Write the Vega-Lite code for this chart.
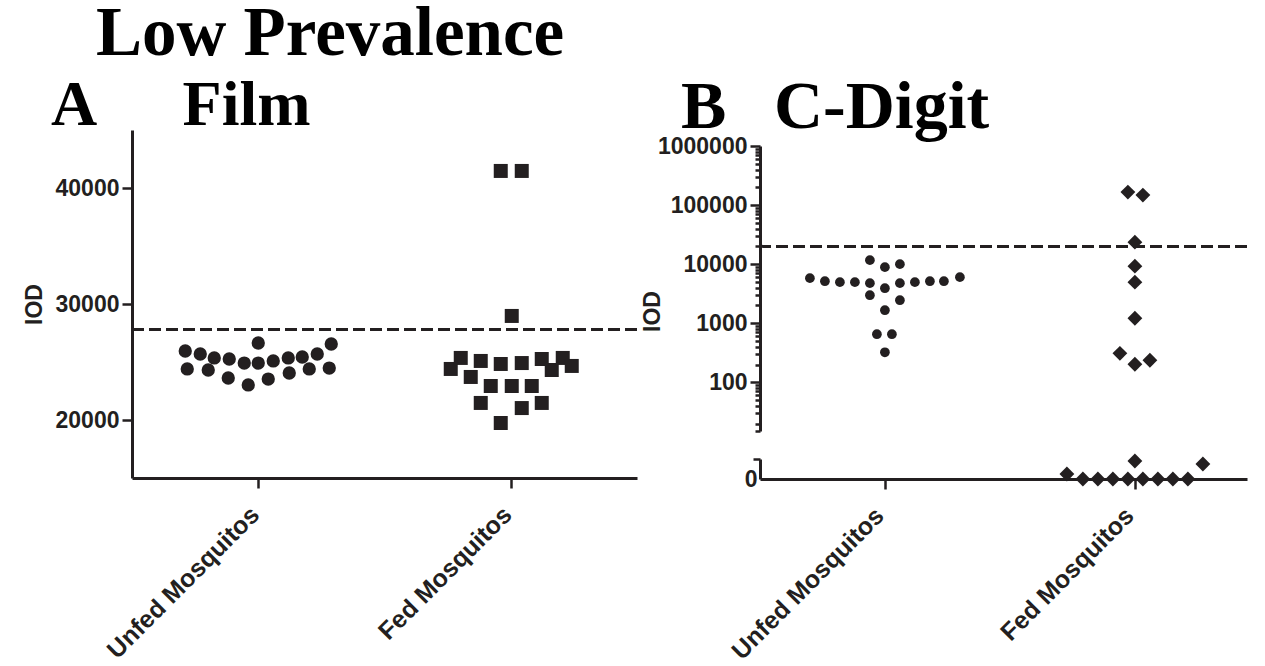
{
  "$schema": "https://vega.github.io/schema/vega-lite/v6.json",
  "background": "white",
  "padding": {"left": 23, "top": 0, "right": 0, "bottom": 0},
  "config": {
    "view": {"stroke": null},
    "font": "Liberation Sans",
    "axis": {
      "labelFont": "Liberation Sans", "labelFontWeight": "bold", "labelFontSize": 23, "labelColor": "#231f20",
      "titleFont": "Liberation Sans", "titleFontWeight": "bold", "titleFontSize": 23, "titleColor": "#231f20",
      "domainColor": "#231f20", "domainWidth": 3, "tickColor": "#231f20", "tickWidth": 2.5, "tickSize": 10,
      "grid": false, "labelPadding": 3, "labelLimit": 0
    },
    "title": {"font": "Liberation Serif", "fontWeight": "bold", "fontSize": 64, "color": "#000000"}
  },
  "resolve": {"scale": {"shape": "independent", "size": "independent"}},
  "title": {"text": "Low Prevalence", "fontSize": 69, "anchor": "start", "frame": "group", "dx": -36, "offset": 5},
  "spacing": 2,
  "datasets": {
    "film": [
      {"group": "Unfed Mosquitos", "iod": 25950, "jitter": -73},
      {"group": "Unfed Mosquitos", "iod": 25690, "jitter": -58},
      {"group": "Unfed Mosquitos", "iod": 25350, "jitter": -44},
      {"group": "Unfed Mosquitos", "iod": 25260, "jitter": -29},
      {"group": "Unfed Mosquitos", "iod": 24910, "jitter": -14},
      {"group": "Unfed Mosquitos", "iod": 26640, "jitter": 0},
      {"group": "Unfed Mosquitos", "iod": 24910, "jitter": 0},
      {"group": "Unfed Mosquitos", "iod": 25090, "jitter": 15},
      {"group": "Unfed Mosquitos", "iod": 25350, "jitter": 30},
      {"group": "Unfed Mosquitos", "iod": 25430, "jitter": 44},
      {"group": "Unfed Mosquitos", "iod": 25690, "jitter": 59},
      {"group": "Unfed Mosquitos", "iod": 26550, "jitter": 73},
      {"group": "Unfed Mosquitos", "iod": 24400, "jitter": -71},
      {"group": "Unfed Mosquitos", "iod": 24310, "jitter": -50},
      {"group": "Unfed Mosquitos", "iod": 23620, "jitter": -30},
      {"group": "Unfed Mosquitos", "iod": 23020, "jitter": -10},
      {"group": "Unfed Mosquitos", "iod": 23530, "jitter": 10},
      {"group": "Unfed Mosquitos", "iod": 24050, "jitter": 31},
      {"group": "Unfed Mosquitos", "iod": 24400, "jitter": 51},
      {"group": "Unfed Mosquitos", "iod": 24480, "jitter": 71},
      {"group": "Fed Mosquitos", "iod": 41470, "jitter": -10},
      {"group": "Fed Mosquitos", "iod": 41470, "jitter": 11},
      {"group": "Fed Mosquitos", "iod": 28970, "jitter": 1},
      {"group": "Fed Mosquitos", "iod": 24400, "jitter": -60},
      {"group": "Fed Mosquitos", "iod": 25350, "jitter": -50},
      {"group": "Fed Mosquitos", "iod": 25090, "jitter": -30},
      {"group": "Fed Mosquitos", "iod": 23710, "jitter": -40},
      {"group": "Fed Mosquitos", "iod": 24830, "jitter": -10},
      {"group": "Fed Mosquitos", "iod": 24910, "jitter": 11},
      {"group": "Fed Mosquitos", "iod": 25260, "jitter": 31},
      {"group": "Fed Mosquitos", "iod": 24310, "jitter": 41},
      {"group": "Fed Mosquitos", "iod": 25350, "jitter": 52},
      {"group": "Fed Mosquitos", "iod": 24660, "jitter": 61},
      {"group": "Fed Mosquitos", "iod": 22930, "jitter": -20},
      {"group": "Fed Mosquitos", "iod": 22930, "jitter": 1},
      {"group": "Fed Mosquitos", "iod": 22930, "jitter": 21},
      {"group": "Fed Mosquitos", "iod": 21470, "jitter": -30},
      {"group": "Fed Mosquitos", "iod": 21030, "jitter": 11},
      {"group": "Fed Mosquitos", "iod": 21470, "jitter": 31},
      {"group": "Fed Mosquitos", "iod": 19740, "jitter": -10}
    ],
    "cdigit": [
      {"group": "Unfed Mosquitos", "iod": 5794, "jitter": -75},
      {"group": "Unfed Mosquitos", "iod": 5150, "jitter": -60},
      {"group": "Unfed Mosquitos", "iod": 4955, "jitter": -45},
      {"group": "Unfed Mosquitos", "iod": 4955, "jitter": -30},
      {"group": "Unfed Mosquitos", "iod": 4767, "jitter": -15},
      {"group": "Unfed Mosquitos", "iod": 11690, "jitter": -15},
      {"group": "Unfed Mosquitos", "iod": 8892, "jitter": 0},
      {"group": "Unfed Mosquitos", "iod": 10000, "jitter": 15},
      {"group": "Unfed Mosquitos", "iod": 3917, "jitter": 0},
      {"group": "Unfed Mosquitos", "iod": 4767, "jitter": 15},
      {"group": "Unfed Mosquitos", "iod": 4955, "jitter": 30},
      {"group": "Unfed Mosquitos", "iod": 5150, "jitter": 45},
      {"group": "Unfed Mosquitos", "iod": 5150, "jitter": 59},
      {"group": "Unfed Mosquitos", "iod": 6026, "jitter": 75},
      {"group": "Unfed Mosquitos", "iod": 2985, "jitter": -15},
      {"group": "Unfed Mosquitos", "iod": 2455, "jitter": 15},
      {"group": "Unfed Mosquitos", "iod": 1660, "jitter": 0},
      {"group": "Unfed Mosquitos", "iod": 652, "jitter": -8},
      {"group": "Unfed Mosquitos", "iod": 652, "jitter": 7},
      {"group": "Unfed Mosquitos", "iod": 322, "jitter": 0},
      {"group": "Fed Mosquitos", "iod": 165900, "jitter": -7},
      {"group": "Fed Mosquitos", "iod": 147600, "jitter": 8},
      {"group": "Fed Mosquitos", "iod": 23600, "jitter": 0},
      {"group": "Fed Mosquitos", "iod": 9250, "jitter": 0},
      {"group": "Fed Mosquitos", "iod": 4955, "jitter": 0},
      {"group": "Fed Mosquitos", "iod": 1216, "jitter": 0},
      {"group": "Fed Mosquitos", "iod": 310, "jitter": -15},
      {"group": "Fed Mosquitos", "iod": 202, "jitter": 0},
      {"group": "Fed Mosquitos", "iod": 236, "jitter": 15},
      {"group": "Fed Mosquitos", "iod": 2.5, "jitter": -68},
      {"group": "Fed Mosquitos", "iod": 0, "jitter": -52},
      {"group": "Fed Mosquitos", "iod": 0, "jitter": -37},
      {"group": "Fed Mosquitos", "iod": 0, "jitter": -22},
      {"group": "Fed Mosquitos", "iod": 0, "jitter": -7},
      {"group": "Fed Mosquitos", "iod": 0, "jitter": 8},
      {"group": "Fed Mosquitos", "iod": 0, "jitter": 23},
      {"group": "Fed Mosquitos", "iod": 0, "jitter": 38},
      {"group": "Fed Mosquitos", "iod": 0, "jitter": 53},
      {"group": "Fed Mosquitos", "iod": 9, "jitter": 0},
      {"group": "Fed Mosquitos", "iod": 7.5, "jitter": 68}
    ]
  },
  "hconcat": [
    {
      "width": 505,
      "height": 348,
      "title": {"text": "A\u00a0\u00a0\u00a0\u00a0\u00a0\u200aFilm", "anchor": "start", "frame": "group", "dx": -81, "offset": -8},
      "layer": [
        {
          "data": {"values": [{"cutoff": 27800}]},
          "mark": {"type": "rule", "strokeDash": [12, 5], "strokeWidth": 3, "color": "#231f20"},
          "encoding": {
            "y": {"field": "cutoff", "type": "quantitative", "title": "IOD"}
          }
        },
        {
          "data": {"name": "film"},
          "mark": {"type": "point", "filled": true, "opacity": 1, "color": "#231f20"},
          "encoding": {
            "x": {
              "field": "group", "type": "nominal", "sort": ["Unfed Mosquitos", "Fed Mosquitos"],
              "scale": {"type": "point", "padding": 0.5},
              "axis": {"title": null, "labelAngle": -45, "labelAlign": "right", "labelBaseline": "alphabetic", "labelPadding": 28, "labelOffset": 2, "labelFontSize": 25}
            },
            "xOffset": {"field": "jitter", "type": "quantitative", "scale": {"domain": [-100, 100], "range": [-100, 100]}},
            "y": {
              "field": "iod", "type": "quantitative", "title": "IOD",
              "scale": {"domain": [15000, 45000], "nice": false, "zero": false},
              "axis": {"values": [20000, 30000, 40000], "format": "d", "titlePadding": 9}
            },
            "shape": {"field": "group", "type": "nominal", "scale": {"domain": ["Unfed Mosquitos", "Fed Mosquitos"], "range": ["circle", "square"]}, "legend": null},
            "size": {"field": "group", "type": "nominal", "scale": {"domain": ["Unfed Mosquitos", "Fed Mosquitos"], "range": [177, 196]}, "legend": null}
          }
        }
      ]
    },
    {
      "spacing": -7,
      "vconcat": [
        {
          "width": 487,
          "height": 1,
          "title": {"text": "B\u00a0\u00a0\u2009C-Digit", "fontSize": 68, "anchor": "start", "frame": "group", "dx": -79, "offset": -12},
          "data": {"values": []},
          "mark": {"type": "point", "opacity": 0}
        },
        {
          "spacing": 20,
          "vconcat": [
            {
              "width": 487,
              "height": 285,
              "layer": [
                {
                  "data": {"values": [{"cutoff": 20000}]},
                  "mark": {"type": "rule", "strokeDash": [12, 5], "strokeWidth": 3, "color": "#231f20"},
                  "encoding": {
                    "y": {"field": "cutoff", "type": "quantitative", "title": "IOD"}
                  }
                },
                {
                  "data": {"name": "cdigit"},
                  "transform": [{"filter": "datum.iod >= 15"}],
                  "mark": {"type": "point", "filled": true, "opacity": 1, "color": "#231f20"},
                  "encoding": {
                    "x": {
                      "field": "group", "type": "nominal", "sort": ["Unfed Mosquitos", "Fed Mosquitos"],
                      "scale": {"type": "point", "padding": 0.474, "align": 0.527, "domain": ["Unfed Mosquitos", "Fed Mosquitos"]},
                      "axis": null
                    },
                    "xOffset": {"field": "jitter", "type": "quantitative", "scale": {"domain": [-100, 100], "range": [-100, 100]}},
                    "y": {
                      "field": "iod", "type": "quantitative", "title": "IOD",
                      "scale": {"type": "log", "domain": [15, 1000000], "nice": false, "zero": false},
                      "axis": {
                        "values": [15, 20, 30, 40, 50, 60, 70, 80, 90, 100, 200, 300, 400, 500, 600, 700, 800, 900, 1000, 2000, 3000, 4000, 5000, 6000, 7000, 8000, 9000, 10000, 20000, 30000, 40000, 50000, 60000, 70000, 80000, 90000, 100000, 200000, 300000, 400000, 500000, 600000, 700000, 800000, 900000, 1000000],
                        "format": "d",
                        "labelExpr": "indexof([100, 1000, 10000, 100000, 1000000], datum.value) >= 0 ? datum.label : ''",
                        "tickSize": {"condition": {"test": "indexof([100, 1000, 10000, 100000, 1000000], datum.value) >= 0", "value": 10}, "value": 5},
                        "titlePadding": -7,
                        "titleY": 165
                      }
                    },
                    "shape": {"field": "group", "type": "nominal", "scale": {"domain": ["Unfed Mosquitos", "Fed Mosquitos"], "range": ["circle", "diamond"]}, "legend": null},
                    "size": {"field": "group", "type": "nominal", "scale": {"domain": ["Unfed Mosquitos", "Fed Mosquitos"], "range": [95, 220]}, "legend": null}
                  }
                }
              ]
            },
            {
              "width": 487,
              "height": 20,
              "data": {"name": "cdigit"},
              "transform": [{"filter": "datum.iod < 15"}],
              "mark": {"type": "point", "filled": true, "opacity": 1, "color": "#231f20"},
              "encoding": {
                "x": {
                  "field": "group", "type": "nominal", "sort": ["Unfed Mosquitos", "Fed Mosquitos"],
                  "scale": {"type": "point", "padding": 0.474, "align": 0.527, "domain": ["Unfed Mosquitos", "Fed Mosquitos"]},
                  "axis": {"title": null, "labelAngle": -45, "labelAlign": "right", "labelBaseline": "alphabetic", "labelPadding": 28, "labelOffset": 0, "labelFontSize": 25}
                },
                "xOffset": {"field": "jitter", "type": "quantitative", "scale": {"domain": [-100, 100], "range": [-100, 100]}},
                "y": {
                  "field": "iod", "type": "quantitative",
                  "scale": {"domain": [0, 10], "nice": false, "zero": false},
                  "axis": {
                    "title": null,
                    "values": [0, 10],
                    "labelExpr": "datum.value == 0 ? '0' : ''",
                    "tickSize": {"condition": {"test": "datum.value == 0", "value": 0}, "value": 7}
                  }
                },
                "shape": {"value": "diamond"},
                "size": {"value": 220}
              }
            }
          ]
        }
      ]
    }
  ]
}
